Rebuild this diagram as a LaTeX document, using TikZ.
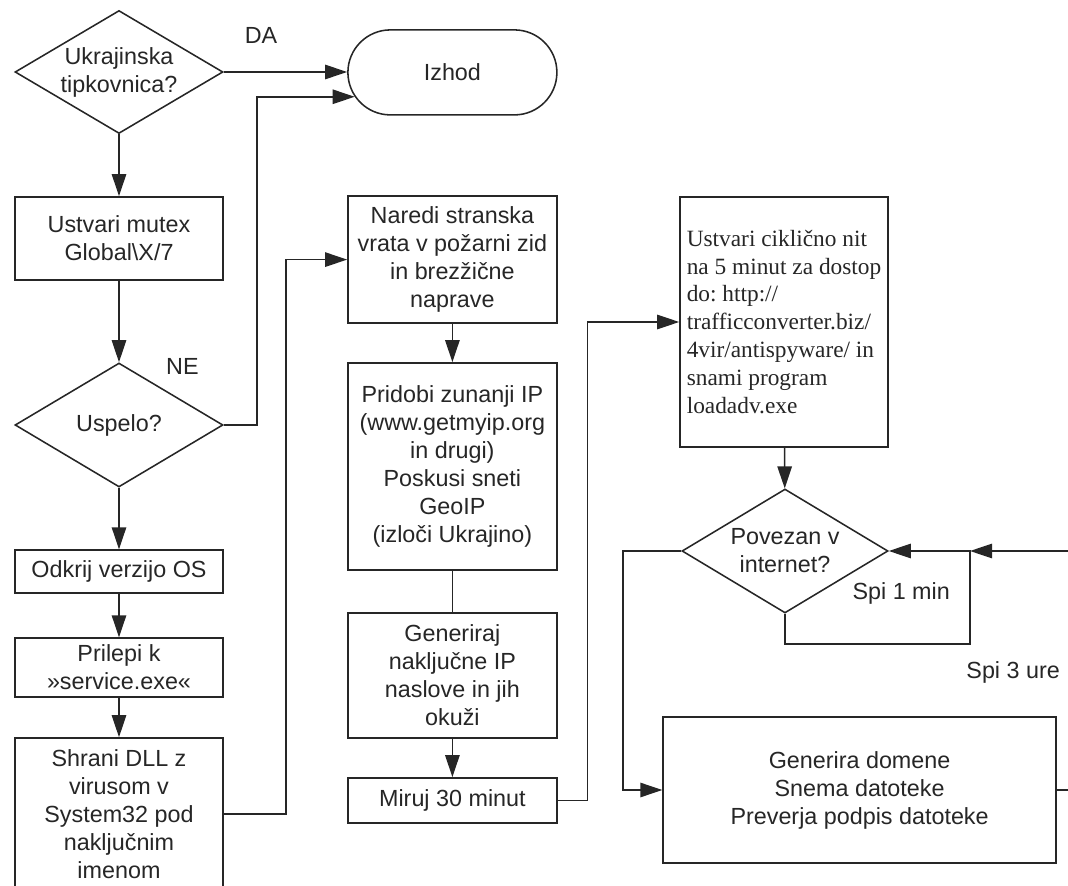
\documentclass[tikz,border=0pt]{standalone}
\usepackage{fontspec}
\setmainfont{Liberation Sans}
\newfontfamily\serifbox{Liberation Serif}
\usetikzlibrary{arrows.meta,shapes.geometric,shapes.misc}
\definecolor{ink}{RGB}{38,38,38}

\begin{document}
\begin{tikzpicture}[txt/.style={font=\fontsize{16.6}{19.9}\selectfont, text=ink},
                    stepbox/.style={txt, draw=ink, line width=1.1pt, align=center,
                                    inner sep=0pt, minimum width=5.2cm},
                    decide/.style={txt, diamond, draw=ink, line width=1.1pt, align=center,
                                   aspect=1.68, inner sep=0pt, minimum width=5.2cm},
                    flow/.style={draw=ink, line width=1.1pt},
                    >={Triangle[length=5.5mm,width=3.6mm]}]
  \useasboundingbox (0,0) rectangle (26.7,-22.15);

  % left column: start checks and install
  \node[decide, minimum height=3.075cm] (ukr) at (2.975,-1.80) {Ukrajinska\\tipkovnica?};
  \node[txt, draw=ink, line width=1.1pt, rounded rectangle, inner sep=0pt,
        minimum width=5.225cm, minimum height=2.125cm] (izhod) at (11.31,-1.81) {Izhod};
  \node[stepbox, minimum height=2.075cm] (mutex) at (2.975,-5.96) {Ustvari mutex\\Global\textbackslash X/7};
  \node[decide, minimum height=3.1cm] (uspelo) at (2.975,-10.625) {Uspelo?};
  \node[stepbox, minimum height=1.075cm] (verzija) at (2.975,-14.29) {Odkrij verzijo OS};
  \node[stepbox, minimum height=1.475cm] (prilepi) at (2.975,-16.69) {Prilepi k\\»service.exe«};
  \node[stepbox, minimum height=3.8cm] (shrani) at (2.975,-20.35)
    {Shrani DLL z\\virusom v\\System32 pod\\naključnim\\imenom};

  \node[txt] (da) at (6.525,-0.875) {DA};
  \node[txt] (ne) at (4.56,-9.17) {NE};

  % middle column: network work
  \node[stepbox, minimum width=5.225cm, minimum height=3.175cm] (vrata) at (11.31,-6.49)
    {Naredi stranska\\vrata v požarni zid\\in brezžične\\naprave};
  \node[stepbox, minimum width=5.225cm, minimum height=5.175cm] (zunanjiip) at (11.31,-11.66)
    {Pridobi zunanji IP\\(www.getmyip.org\\in drugi)\\Poskusi sneti\\GeoIP\\(izloči Ukrajino)};
  \node[stepbox, minimum width=5.225cm, minimum height=3.125cm] (nakljucne) at (11.31,-16.89)
    {Generiraj\\naključne IP\\naslove in jih\\okuži};
  \node[stepbox, minimum width=5.225cm, minimum height=1.125cm] (miruj) at (11.31,-20.01) {Miruj 30 minut};

  % right column: download loop
  \node[stepbox, font=\serifbox\fontsize{16.6}{19.9}\selectfont\frenchspacing, align=left,
        minimum height=6.25cm] (nit) at (19.6,-8.05)
    {Ustvari ciklično nit\\na 5 minut za dostop\\do: http://\\trafficconverter.biz/\\4vir/antispyware/ in\\snami program\\loadadv.exe};
  \node[decide, minimum width=5.15cm, minimum height=3.1cm] (povezan) at (19.625,-13.775) {Povezan v\\internet?};
  \node[stepbox, minimum width=9.825cm, minimum height=3.65cm] (domene) at (21.49,-19.75)
    {Generira domene\\Snema datoteke\\Preverja podpis datoteke};

  \node[txt] (spi1) at (22.53,-14.83) {Spi 1 min};
  \node[txt, anchor=east] (spi3) at (26.62,-16.8) {Spi 3 ure};

  \coordinate (zanka) at (24.25,-13.775);
  \coordinate (odzgoraj) at (27.2,-13.775);
  \coordinate (oddesno) at (27.2,-19.75);

  \draw[flow,->] (ukr.east) -- (ukr.east -| izhod.west);
  \draw[flow,->] (ukr) -- (mutex);
  \draw[flow,->] (mutex) -- (uspelo);
  \draw[flow,->] (uspelo.east) -- ++(0.825,0) |- (izhod.194);
  \draw[flow,->] (uspelo) -- (verzija);
  \draw[flow,->] (verzija) -- (prilepi);
  \draw[flow,->] (prilepi) -- (shrani);
  \draw[flow,->] (shrani.east) -- ++(1.55,0) |- (vrata.west);

  \draw[flow,->] (vrata) -- (zunanjiip);
  \draw[flow]    (zunanjiip) -- (nakljucne);
  \draw[flow,->] (nakljucne) -- (miruj);
  \draw[flow,->] (miruj.east) -- ++(0.75,0) |- (nit.west);

  \draw[flow,->] (nit) -- (povezan);
  \draw[flow,->] (povezan.south) -- ++(0,-0.75) -| (zanka) -- (povezan.east);
  \draw[flow,->] (odzgoraj) -- (zanka);
  \draw[flow,->] (povezan.west) -- ++(-1.45,0) |- (domene.west);
  \draw[flow]    (domene.east) -- (oddesno);
\end{tikzpicture}
\end{document}
